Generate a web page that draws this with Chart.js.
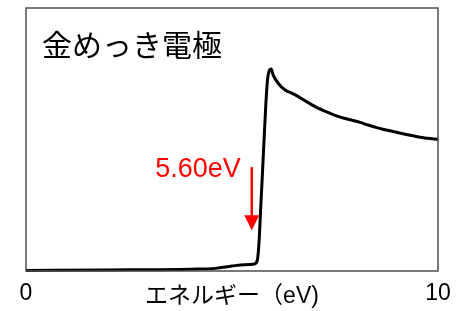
<!DOCTYPE html>
<html>
<head>
<meta charset="utf-8">
<script src="https://cdn.jsdelivr.net/npm/chart.js@4/dist/chart.umd.min.js"></script>
<style>
  html, body { margin: 0; padding: 0; background: #fff; }
  #wrap { width: 466px; height: 311px; }
</style>
</head>
<body>
<div id="wrap"><canvas id="spectrum"></canvas></div>
<script>
// spectrum values (x in eV, y in arbitrary units 0-100)
const energy = [0, 2.0, 4.0, 4.6, 5.0, 5.3, 5.55, 5.62, 5.66, 5.70, 5.74, 5.78, 5.82, 5.86, 5.90, 5.95,
  6.00, 6.12, 6.29, 6.45, 6.61, 6.81, 7.09, 7.30, 7.50, 7.70, 7.90, 8.11, 8.30, 8.51, 8.72, 8.92, 9.15, 9.40, 9.73, 10.0];
const yield_ = [0.2, 0.4, 0.7, 1.0, 1.9, 2.4, 2.7, 4.5, 12, 25, 37.5, 50.5, 63, 72.5, 76, 76.8,
  74.5, 71.4, 68.8, 67.6, 66.3, 64.4, 61.9, 60.5, 59.2, 58.2, 57.4, 56.5, 55.5, 54.5, 53.7, 53.0, 52.2, 51.4, 50.5, 50.1];
const xTicks = [0, 10];

const chartTitle = '金めっき電極';
const xTitle = 'エネルギー（eV)';
const markLabel = '5.60eV';
const markX = 5.48;          // where the arrow sits on the energy axis
const markFrom = 39.5;       // arrow tail (y units)
const markTo = 15.5;         // arrow tip (y units)

const latin = '"Liberation Sans", Arial, sans-serif';
const jp = '"Liberation Sans", "Noto Sans CJK JP", sans-serif';

const framePlugin = {
  id: 'frame',
  afterDraw(chart) {
    const { ctx, chartArea: a, scales } = chart;
    ctx.save();
    ctx.strokeStyle = '#4d4d4d';
    ctx.lineWidth = 1.5;
    ctx.strokeRect(a.left, a.top, a.right - a.left, a.bottom - a.top);

    // title inside the plot
    ctx.fillStyle = '#000';
    ctx.font = '30px ' + jp;
    ctx.textBaseline = 'middle';
    ctx.fillText(chartTitle, a.left + 16, a.top + 40);

    // red arrow + label
    const px = scales.x.getPixelForValue(markX);
    const y0 = scales.y.getPixelForValue(markFrom);
    const y1 = scales.y.getPixelForValue(markTo);
    ctx.strokeStyle = '#ff0000';
    ctx.fillStyle = '#ff0000';
    ctx.lineWidth = 2.5;
    ctx.beginPath();
    ctx.moveTo(px, y0);
    ctx.lineTo(px, y1 - 12);
    ctx.stroke();
    ctx.beginPath();
    ctx.moveTo(px - 7.5, y1 - 15);
    ctx.lineTo(px + 7.5, y1 - 15);
    ctx.lineTo(px, y1);
    ctx.closePath();
    ctx.fill();
    ctx.font = '27px ' + latin;
    ctx.textBaseline = 'alphabetic';
    ctx.textAlign = 'right';
    ctx.fillText(markLabel, px - 11, y0 + 10);
    ctx.restore();
  }
};

new Chart(document.getElementById('spectrum'), {
  type: 'line',
  data: {
    datasets: [{
      data: energy.map((e, i) => ({ x: e, y: yield_[i] })),
      borderColor: '#000',
      borderWidth: 3,
      pointRadius: 0,
      cubicInterpolationMode: 'monotone',
      fill: false,
      clip: false
    }]
  },
  options: {
    responsive: true,
    maintainAspectRatio: false,
    animation: false,
    layout: { padding: { left: 26, right: 28, top: 8, bottom: 0 } },
    plugins: { legend: { display: false }, tooltip: { enabled: false } },
    scales: {
      x: {
        type: 'linear', min: 0, max: 10,
        afterBuildTicks: (s) => { s.ticks = xTicks.map(v => ({ value: v })); },
        afterFit: (s) => { s.height = 40; },
        grid: { display: false },
        border: { display: false },
        ticks: { color: '#000', font: { family: latin, size: 23 }, padding: 1 },
        title: { display: true, text: xTitle, color: '#000', font: { family: jp, size: 23 }, padding: { top: 0, bottom: 1 } }
      },
      y: { display: false, min: 0, max: 100 }
    }
  },
  plugins: [framePlugin]
});
</script>
</body>
</html>
